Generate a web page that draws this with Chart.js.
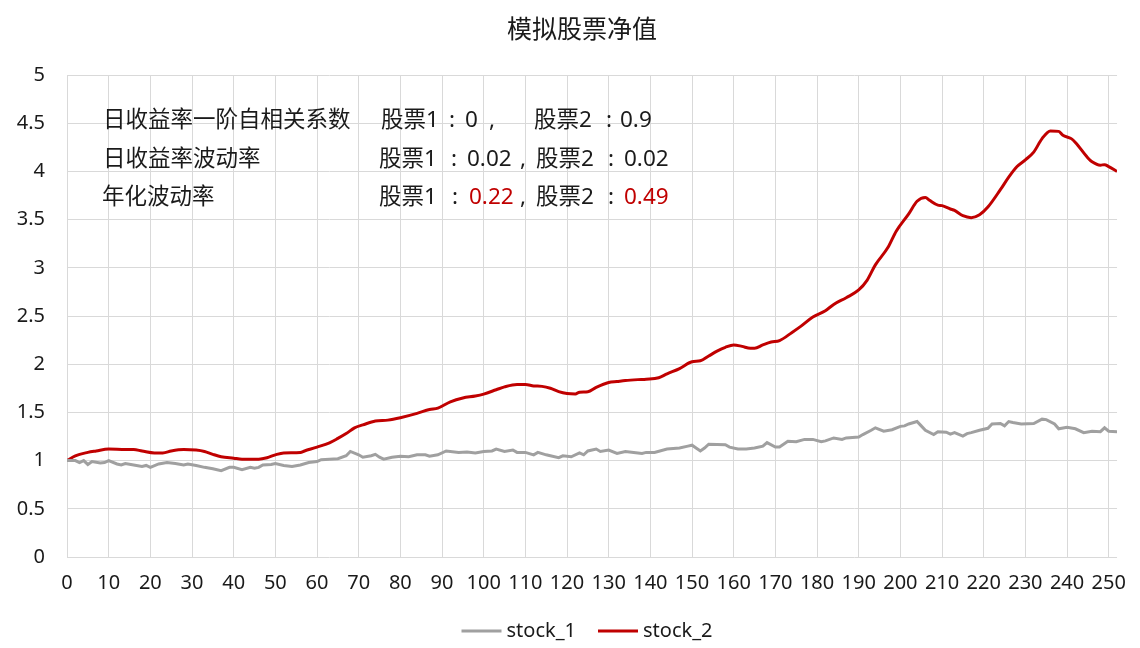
<!DOCTYPE html>
<html>
<head>
<meta charset="utf-8">
<script src="https://cdn.jsdelivr.net/npm/chart.js@4/dist/chart.umd.min.js"></script>
<style>
  html, body { margin: 0; padding: 0; background: #fff; }
  #wrap { width: 1140px; height: 648px; }
</style>
</head>
<body>
<div id="wrap"><canvas id="chart" width="1140" height="648"></canvas></div>
<script>
'use strict';

const TITLE = '模拟股票净值';
const SERIES_NAMES = ['stock_1', 'stock_2'];
const COLORS = ['#A0A0A0', '#C00000'];

// stock_1 (gray)
const days1 = [
  0, 2, 3, 4, 5, 6, 8, 9, 10, 12, 13, 14, 16, 18, 19, 20, 22, 24, 26, 28,
  29, 31, 33, 35, 37, 39, 40, 42, 44, 45, 46, 47, 49, 50, 52, 54, 56, 58, 60, 61,
  63, 65, 67, 68, 70, 71, 73, 74, 75, 76, 78, 80, 82, 84, 86, 87, 89, 91, 94, 96,
  98, 100, 102, 103, 105, 107, 108, 110, 112, 113, 115, 116, 118, 119, 121, 123, 124, 125, 127, 128,
  130, 132, 134, 136, 138, 139, 141, 144, 147, 149, 150, 152, 153, 154, 158, 159, 161, 163, 165, 167,
  168, 170, 171, 173, 175, 177, 179, 181, 182, 184, 186, 187, 190, 191, 193, 194, 196, 198, 200, 201,
  202, 204, 205, 206, 208, 209, 211, 212, 213, 215, 216, 217, 219, 221, 222, 224, 225, 226, 227, 229,
  232, 234, 235, 237, 238, 240, 242, 244, 246, 248, 249, 250, 252
];
const stock1 = [
  1.00, 1.00, 0.98, 1.00, 0.96, 0.99, 0.975, 0.98, 1.00, 0.965, 0.955, 0.97, 0.955, 0.94, 0.95, 0.93, 0.965, 0.98, 0.97, 0.955,
  0.965, 0.95, 0.93, 0.915, 0.895, 0.93, 0.93, 0.905, 0.93, 0.92, 0.93, 0.955, 0.96, 0.97, 0.95, 0.94, 0.955, 0.98, 0.99, 1.01,
  1.015, 1.02, 1.05, 1.095, 1.06, 1.035, 1.05, 1.065, 1.035, 1.015, 1.035, 1.045, 1.04, 1.06, 1.06, 1.045, 1.06, 1.10, 1.085, 1.09,
  1.08, 1.095, 1.10, 1.12, 1.095, 1.11, 1.085, 1.085, 1.06, 1.085, 1.06, 1.05, 1.03, 1.05, 1.04, 1.08, 1.06, 1.10, 1.12, 1.095,
  1.11, 1.075, 1.095, 1.085, 1.075, 1.085, 1.085, 1.12, 1.13, 1.15, 1.16, 1.10, 1.13, 1.17, 1.165, 1.14, 1.12, 1.12, 1.13, 1.15,
  1.187, 1.14, 1.14, 1.20, 1.195, 1.22, 1.22, 1.195, 1.205, 1.235, 1.22, 1.235, 1.245, 1.27, 1.315, 1.34, 1.305, 1.32, 1.355, 1.36,
  1.38, 1.405, 1.36, 1.315, 1.27, 1.30, 1.295, 1.275, 1.29, 1.255, 1.28, 1.29, 1.315, 1.335, 1.38, 1.385, 1.36, 1.405, 1.395, 1.38,
  1.385, 1.43, 1.425, 1.38, 1.33, 1.345, 1.33, 1.29, 1.305, 1.30, 1.34, 1.305, 1.30
];

// stock_2 (red)
const days2 = [
  0, 2, 5, 7, 10, 14, 16, 18, 21, 23, 25, 28, 31, 33, 35, 37, 40, 42, 46, 48,
  50, 52, 56, 57, 60, 63, 65, 67, 69, 71, 74, 77, 80, 84, 87, 89, 92, 95, 98, 100,
  103, 105, 108, 110, 112, 114, 116, 118, 120, 122, 123, 125, 127, 130, 132, 134, 137, 139, 142, 144,
  147, 150, 152, 154, 156, 158, 160, 162, 164, 165, 167, 169, 171, 174, 176, 179, 182, 184, 187, 190,
  192, 194, 197, 199, 202, 204, 206, 207, 209, 210, 212, 213, 215, 217, 219, 221, 224, 226, 228, 230,
  232, 234, 236, 238, 239, 241, 242, 245, 246, 248, 249, 250, 252
];
const stock2 = [
  1.00, 1.05, 1.085, 1.10, 1.12, 1.115, 1.115, 1.10, 1.08, 1.08, 1.10, 1.115, 1.11, 1.095, 1.065, 1.04, 1.025, 1.015, 1.015, 1.03,
  1.06, 1.08, 1.085, 1.10, 1.14, 1.185, 1.23, 1.28, 1.34, 1.37, 1.41, 1.42, 1.445, 1.49, 1.53, 1.545, 1.61, 1.65, 1.67, 1.69,
  1.735, 1.765, 1.79, 1.79, 1.775, 1.77, 1.75, 1.715, 1.695, 1.69, 1.71, 1.715, 1.76, 1.81, 1.82, 1.83, 1.84, 1.845, 1.86, 1.90,
  1.955, 2.025, 2.035, 2.085, 2.135, 2.175, 2.20, 2.185, 2.165, 2.165, 2.20, 2.23, 2.245, 2.33, 2.39, 2.49, 2.555, 2.62, 2.69, 2.77,
  2.87, 3.03, 3.21, 3.38, 3.56, 3.69, 3.73, 3.70, 3.65, 3.645, 3.61, 3.595, 3.54, 3.52, 3.55, 3.63, 3.81, 3.94, 4.05, 4.12,
  4.20, 4.34, 4.42, 4.415, 4.375, 4.34, 4.30, 4.14, 4.10, 4.065, 4.07, 4.05, 4.00
];

const X_MAX = 252;
const X_STEP = 10;
const Y_MIN = 0;
const Y_MAX = 5;
const Y_STEP = 0.5;

// annotation block: [text, x, colour, align]
const NOTE_LINES = [
  { y: 121, parts: [
    ['日收益率一阶自相关系数', 103, null, 'left'],
    ['股票1', 381, null, 'left'], [':', 452, null, 'center'], ['0', 465, null, 'left'], [',', 492, null, 'center'],
    ['股票2', 534, null, 'left'], [':', 609, null, 'center'], ['0.9', 620, null, 'left']
  ] },
  { y: 160, parts: [
    ['日收益率波动率', 103, null, 'left'],
    ['股票1', 379, null, 'left'], [':', 454, null, 'center'], ['0.02', 467, null, 'left'], [',', 523, null, 'center'],
    ['股票2', 536, null, 'left'], [':', 611, null, 'center'], ['0.02', 624, null, 'left']
  ] },
  { y: 198, parts: [
    ['年化波动率', 102, null, 'left'],
    ['股票1', 379, null, 'left'], [':', 455, null, 'center'], ['0.22', 469, 'red', 'left'], [',', 523, null, 'center'],
    ['股票2', 536, null, 'left'], [':', 611, null, 'center'], ['0.49', 624, 'red', 'left']
  ] }
];

const FONT = "'Noto Sans', 'Noto Sans CJK SC', sans-serif";
const TEXT_COLOR = '#1a1a1a';
const GRID_COLOR = '#D9D9D9';

function toPoints(xs, ys) {
  return xs.map((x, i) => ({ x, y: ys[i] }));
}

const overlayPlugin = {
  id: 'overlay',
  afterDraw(chart) {
    const ctx = chart.ctx;
    ctx.save();

    // title
    ctx.fillStyle = TEXT_COLOR;
    ctx.font = `25px ${FONT}`;
    ctx.textAlign = 'center';
    ctx.textBaseline = 'middle';
    ctx.fillText(TITLE, 582, 31);

    // note text
    ctx.font = `22.5px ${FONT}`;
    for (const line of NOTE_LINES) {
      for (const [text, x, colour, align] of line.parts) {
        ctx.fillStyle = colour === 'red' ? COLORS[1] : TEXT_COLOR;
        ctx.textAlign = align;
        ctx.fillText(text, x, line.y);
      }
    }

    // legend
    ctx.font = `20px ${FONT}`;
    ctx.textAlign = 'left';
    const sample = 40;
    const gap = 5;
    const between = 22;
    const widths = SERIES_NAMES.map((n) => ctx.measureText(n).width);
    const total = widths.reduce((a, w) => a + sample + gap + w, 0) + between;
    let x = 587 - total / 2;
    const ly = 631;
    chart.data.datasets.forEach((ds, i) => {
      ctx.strokeStyle = ds.borderColor;
      ctx.lineWidth = 3;
      ctx.beginPath();
      ctx.moveTo(x, ly);
      ctx.lineTo(x + sample, ly);
      ctx.stroke();
      ctx.fillStyle = TEXT_COLOR;
      ctx.fillText(ds.label, x + sample + gap, ly);
      x += sample + gap + widths[i] + between;
    });

    ctx.restore();
  }
};

new Chart(document.getElementById('chart'), {
  type: 'line',
  data: {
    datasets: [
      {
        label: SERIES_NAMES[0],
        data: toPoints(days1, stock1),
        borderColor: COLORS[0],
        backgroundColor: COLORS[0],
        borderWidth: 3,
        pointRadius: 0,
        tension: 0
      },
      {
        label: SERIES_NAMES[1],
        data: toPoints(days2, stock2),
        borderColor: COLORS[1],
        backgroundColor: COLORS[1],
        borderWidth: 3,
        pointRadius: 0,
        cubicInterpolationMode: 'monotone'
      }
    ]
  },
  options: {
    responsive: false,
    animation: false,
    layout: { padding: { top: 75, right: 15, bottom: 51, left: 0 } },
    plugins: {
      legend: { display: false },
      title: { display: false },
      tooltip: { enabled: false }
    },
    scales: {
      x: {
        type: 'linear',
        min: 0,
        max: X_MAX,
        border: { display: false },
        grid: { color: GRID_COLOR, lineWidth: 1, drawTicks: false },
        ticks: {
          stepSize: X_STEP,
          includeBounds: false,
          maxRotation: 0,
          autoSkip: false,
          padding: 14,
          color: TEXT_COLOR,
          font: { size: 20, family: FONT }
        },
        afterFit(scale) { scale.height = 40; }
      },
      y: {
        min: Y_MIN,
        max: Y_MAX,
        border: { display: false },
        grid: { color: GRID_COLOR, lineWidth: 1, drawTicks: false },
        ticks: {
          stepSize: Y_STEP,
          padding: 22,
          color: TEXT_COLOR,
          font: { size: 20, family: FONT },
          callback(value) {
            return String(Number(value));
          }
        },
        afterFit(scale) { scale.width = 67; }
      }
    }
  },
  plugins: [overlayPlugin]
});
</script>
</body>
</html>
